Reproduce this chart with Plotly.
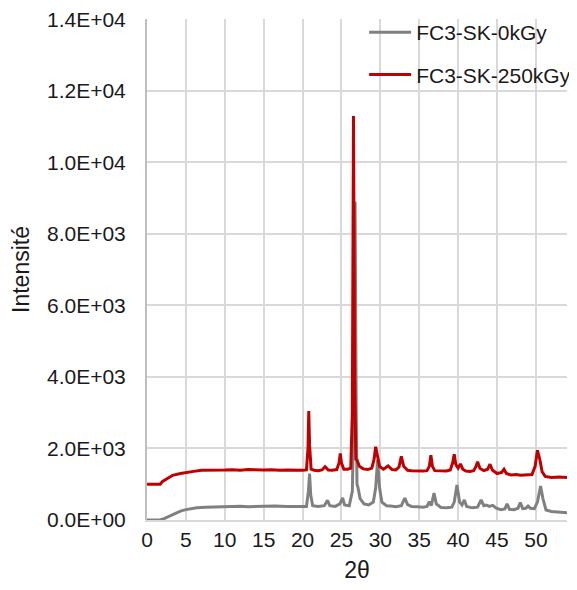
import plotly.graph_objects as go

# XRD patterns (2theta in degrees, intensity in counts)
two_theta_0kgy = [
    0, 1.7, 2.2, 3.0, 4.3, 5.0, 6.4, 7.5, 9.0, 10.5, 12.0, 13.0, 14.0, 15.0, 16.5,
    18.0, 19.5, 20.5, 20.75, 20.9, 21.05, 21.3, 22.0, 22.8, 23.2, 23.5, 24.2, 24.8,
    25.15, 25.4, 26.0, 26.4, 26.6, 26.75, 26.9, 27.0, 27.1, 27.4, 27.9, 28.5, 29.1,
    29.4, 29.65, 29.9, 30.2, 30.8, 31.3, 32.0, 32.7, 33.15, 33.5, 34.0, 34.8, 35.5,
    36.0, 36.3, 36.55, 36.9, 37.2, 37.8, 38.5, 39.2, 39.5, 39.85, 40.2, 40.5, 40.8,
    41.1, 41.8, 42.5, 42.95, 43.3, 43.6, 44.0, 44.45, 44.9, 45.5, 46.0, 46.3, 46.6,
    47.2, 47.7, 48.0, 48.3, 48.7, 49.0, 49.3, 49.8, 50.2, 50.6, 50.9, 51.3, 52.0,
    53.0, 54.0,
]
intensity_0kgy = [
    0, 0, 40, 120, 250, 290, 340, 355, 370, 375, 385, 370, 380, 375, 390,
    380, 385, 380, 800, 1300, 700, 400, 375, 400, 550, 400, 380, 450,
    620, 420, 400, 800, 3000, 8900, 3000, 1000, 930, 600, 450, 420, 500,
    900, 1680, 900, 500, 400, 390, 370, 400, 610, 430, 380, 370, 360,
    380, 510, 400, 750, 450, 350, 340, 360, 500, 980, 500, 420, 560,
    380, 340, 360, 560, 400, 420, 380, 410, 330, 290, 310, 450, 300,
    290, 330, 485, 320, 330, 390, 330, 320, 500, 950, 600, 280, 240,
    220, 200,
]

two_theta_250kgy = [
    0, 1.0, 1.7, 2.0, 2.6, 3.3, 4.3, 5.0, 6.0, 7.0, 8.0, 9.0, 10.0, 11.0, 12.0,
    13.0, 14.0, 15.0, 16.0, 17.0, 18.0, 19.0, 20.0, 20.5, 20.7, 20.8, 20.9, 21.1,
    21.5, 22.0, 22.5, 22.9, 23.3, 23.8, 24.4, 24.7, 24.85, 25.0, 25.3, 25.8, 26.2,
    26.4, 26.55, 26.7, 26.85, 27.0, 27.3, 27.8, 28.4, 28.9, 29.2, 29.4, 29.6, 29.9,
    30.4, 31.0, 31.5, 32.0, 32.4, 32.7, 33.0, 33.5, 34.0, 34.5, 35.0, 35.5, 36.0,
    36.3, 36.5, 36.7, 37.0, 37.5, 38.0, 38.5, 39.0, 39.3, 39.5, 39.7, 40.0, 40.3,
    40.6, 41.0, 41.5, 42.0, 42.3, 42.5, 42.8, 43.3, 43.8, 44.1, 44.4, 45.0, 45.6,
    45.9, 46.2, 46.8, 47.5, 48.0, 48.5, 49.0, 49.5, 49.9, 50.2, 50.5, 50.8, 51.2,
    52.0, 53.0, 54.0,
]
intensity_250kgy = [
    1000, 1000, 1000, 1080, 1150, 1250, 1300, 1330, 1360, 1390, 1385, 1400, 1395, 1405, 1390,
    1410, 1400, 1395, 1405, 1390, 1400, 1385, 1390, 1400, 2000, 3050, 2100, 1420,
    1390, 1380, 1400, 1490, 1400, 1390, 1410, 1600, 1860, 1600, 1420, 1420, 1450,
    3000, 11300, 4000, 1700, 1680, 1500, 1430, 1410, 1450, 1700, 2050, 1800, 1500,
    1420, 1510, 1410, 1400, 1480, 1780, 1500, 1390, 1380, 1370, 1360, 1370, 1380,
    1500, 1810, 1500, 1380, 1370, 1360, 1370, 1400, 1600, 1840, 1550, 1450, 1570,
    1420, 1370, 1360, 1380, 1500, 1630, 1450, 1380, 1420, 1560, 1400, 1300, 1330,
    1420, 1300, 1260, 1270, 1250, 1260, 1255, 1270, 1500, 1950, 1700, 1350, 1220,
    1190, 1200, 1190,
]

y_tick_vals = [0, 2000, 4000, 6000, 8000, 10000, 12000, 14000]
y_tick_text = ["0.0E+00", "2.0E+03", "4.0E+03", "6.0E+03", "8.0E+03",
               "1.0E+04", "1.2E+04", "1.4E+04"]
x_tick_vals = [0, 5, 10, 15, 20, 25, 30, 35, 40, 45, 50]

font_family = "Liberation Sans, Arial, sans-serif"

fig = go.Figure()

fig.add_trace(go.Scatter(
    x=two_theta_0kgy,
    y=intensity_0kgy,
    mode="lines",
    name="FC3-SK-0kGy",
    legendgroup="a",
    line=dict(color="#808080", width=3),
))
fig.add_trace(go.Scatter(
    x=two_theta_250kgy,
    y=intensity_250kgy,
    mode="lines",
    name="FC3-SK-250kGy",
    legendgroup="b",
    line=dict(color="#c00000", width=3),
))

# the page body adds an 8px offset, so the figure is 8px smaller than the window
fig.update_layout(
    width=569,
    height=582,
    margin=dict(l=139, r=10, t=11, b=70, autoexpand=False),
    paper_bgcolor="white",
    plot_bgcolor="white",
    font=dict(family=font_family, size=21, color="#1a1a1a"),
    showlegend=True,
    legend=dict(
        x=0.517, y=0.993,
        yref="container",
        xanchor="left", yanchor="top",
        bgcolor="rgba(0,0,0,0)",
        tracegroupgap=12,
        itemwidth=42,
        font=dict(size=21, color="#1a1a1a"),
    ),
)

fig.update_xaxes(
    range=[0, 54],
    tickvals=x_tick_vals,
    showgrid=True,
    gridcolor="#d9d9d9",
    gridwidth=2,
    showline=True,
    linecolor="#d9d9d9",
    linewidth=2,
    zeroline=False,
    ticks="",
    automargin=False,
    title=dict(text="2θ", font=dict(size=23), standoff=12),
)
fig.update_yaxes(
    range=[0, 14010],
    tickvals=y_tick_vals,
    ticktext=y_tick_text,
    showgrid=True,
    gridcolor="#d9d9d9",
    gridwidth=2,
    showline=True,
    linecolor="#bfbfbf",
    linewidth=2,
    zeroline=False,
    ticks="",
    ticklabelstandoff=15,
    ticklabeloverflow="allow",
    automargin=False,
    title=dict(text="Intensité", font=dict(size=23), standoff=11),
)

fig.write_html("out.html")
